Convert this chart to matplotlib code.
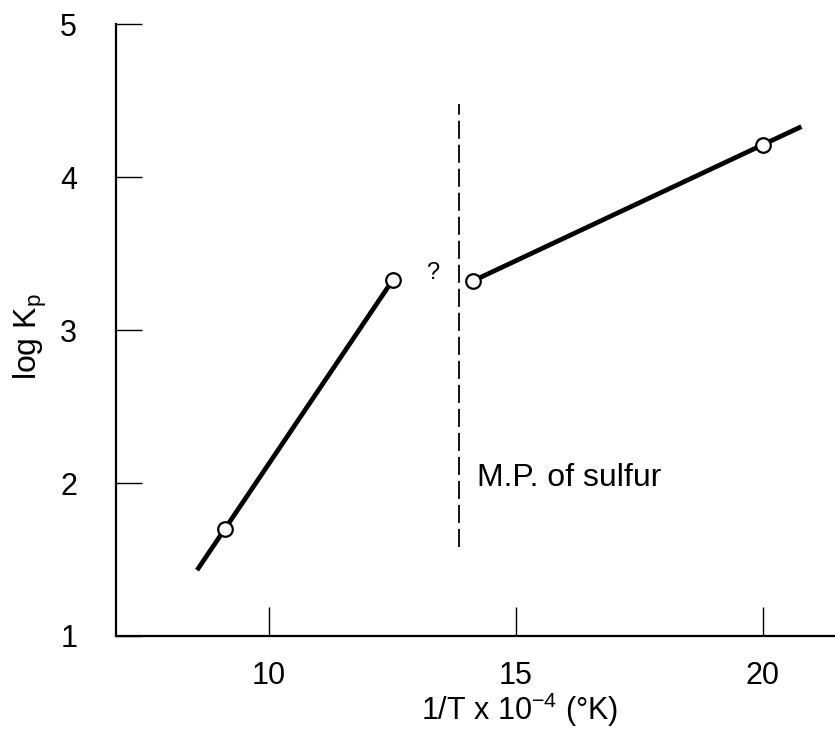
import matplotlib
matplotlib.use('Agg')
import matplotlib.pyplot as plt

# Data
# low temperature branch (left of melting point)
left_line_x = [8.54, 12.51]
left_line_y = [1.43, 3.33]
left_pts_x = [9.11, 12.51]
left_pts_y = [1.70, 3.33]

# high temperature branch (right of melting point)
right_line_x = [14.12, 20.78]
right_line_y = [3.32, 4.33]
right_pts_x = [14.12, 20.0]
right_pts_y = [3.32, 4.21]

# melting point of sulfur
mp_x = 13.85
mp_y = [1.58, 4.48]

x_ticks = [10, 15, 20]
y_ticks = [1, 2, 3, 4, 5]

plt.rcParams['font.family'] = ['Liberation Sans', 'DejaVu Sans']

fig = plt.figure(figsize=(8.35, 7.31), dpi=100)
ax = fig.add_axes([0.139, 0.13, 0.861, 0.837])

# Lines
ax.plot(left_line_x, left_line_y, color='black', linewidth=3.4, solid_capstyle='butt')
ax.plot(right_line_x, right_line_y, color='black', linewidth=3.4, solid_capstyle='butt')

# Open circle markers
ax.plot(left_pts_x + right_pts_x, left_pts_y + right_pts_y, linestyle='none', marker='o',
        markersize=10.5, markerfacecolor='white', markeredgecolor='black', markeredgewidth=1.6)

# Dashed melting point line
ax.plot([mp_x, mp_x], mp_y, color='black', linewidth=1.3, linestyle=(0, (10, 3.3)))

# Annotations
ax.text(13.32, 3.37, '?', fontsize=17, ha='center', va='center')
ax.text(14.2, 2.03, 'M.P. of sulfur', fontsize=23, ha='left', va='center')

# Axes style
ax.set_xlim(6.9, 21.46)
ax.set_ylim(1, 5)
ax.spines['top'].set_visible(False)
ax.spines['right'].set_visible(False)
ax.spines['left'].set_linewidth(1.6)
ax.spines['bottom'].set_linewidth(1.6)

ax.set_xticks(x_ticks)
ax.set_yticks(y_ticks)
ax.tick_params(axis='x', direction='in', length=21, width=1, pad=18, labelsize=22)
ax.tick_params(axis='y', direction='in', length=19, width=1, pad=28, labelsize=22)

ax.set_xlabel('1/T x 10$^{\\mathregular{-4}}$ (°K)', fontsize=22)
ax.xaxis.set_label_coords(0.562, -0.121)
ax.xaxis.label.set_va('center')
ax.set_ylabel('log K$_\\mathregular{p}$', fontsize=23)
ax.yaxis.set_label_coords(-0.12, 0.489)
ax.yaxis.label.set_va('center')

plt.savefig('out.png', dpi=100)
plt.close(fig)
